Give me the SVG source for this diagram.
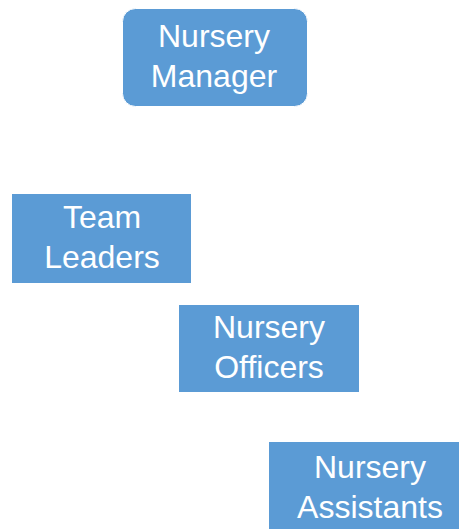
<svg xmlns="http://www.w3.org/2000/svg" width="459" height="529" viewBox="0 0 459 529">
<style>
.box{fill:#5B9BD5;stroke:#ffffff;stroke-width:1}
.lbl{font-family:"Liberation Sans",Arial,sans-serif;font-size:32px;fill:#ffffff;text-anchor:middle}
</style>
<rect width="459" height="529" fill="#ffffff"/>
<g id="connectors"></g>
<g id="nursery-manager">
<rect class="box" x="122.5" y="8.5" width="185" height="98" rx="13"/>
<text class="lbl" x="214" y="47">Nursery</text>
<text class="lbl" x="214" y="87">Manager</text>
</g>
<g id="team-leaders">
<rect class="box" x="11.5" y="193.5" width="180" height="90"/>
<text class="lbl" x="102" y="228">Team</text>
<text class="lbl" x="102" y="268">Leaders</text>
</g>
<g id="nursery-officers">
<rect class="box" x="178.5" y="304.5" width="181" height="88"/>
<text class="lbl" x="269" y="338">Nursery</text>
<text class="lbl" x="269" y="378">Officers</text>
</g>
<g id="nursery-assistants">
<rect class="box" x="268.5" y="441.5" width="204" height="100"/>
<text class="lbl" x="370" y="478">Nursery</text>
<text class="lbl" x="370" y="518">Assistants</text>
</g>
</svg>
